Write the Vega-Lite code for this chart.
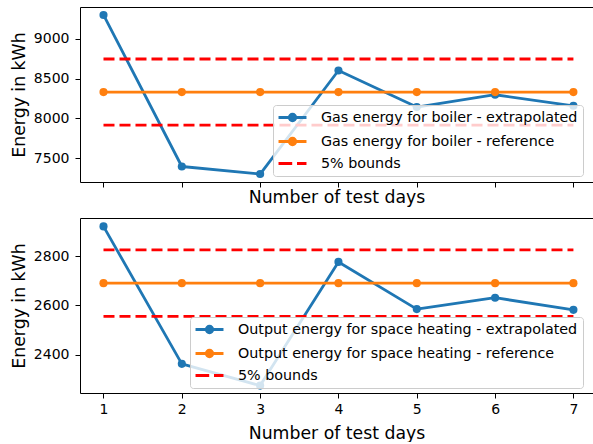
{
  "$schema": "https://vega.github.io/schema/vega-lite/v6.json",
  "padding": {"left": 10, "top": 7, "right": 0, "bottom": 0},
  "background": "white",
  "spacing": 36,
  "bounds": "flush",
  "config": {
    "font": "DejaVu Sans",
    "view": {"stroke": null},
    "axis": {
      "grid": false,
      "domain": true,
      "domainColor": "#000",
      "domainWidth": 1,
      "tickColor": "#000",
      "tickSize": 5,
      "tickWidth": 1,
      "labelFont": "DejaVu Sans",
      "labelFontSize": 14,
      "labelColor": "#000",
      "titleFont": "DejaVu Sans",
      "titleFontSize": 17.3,
      "titleFontWeight": "normal",
      "titleColor": "#000"
    },
    "legend": {
      "orient": "none",
      "title": null,
      "fillColor": "rgba(255,255,255,0.8)",
      "strokeColor": "#cccccc",
      "strokeWidth": 1,
      "cornerRadius": 3,
      "padding": 5,
      "labelFont": "DejaVu Sans",
      "labelFontSize": 14.3,
      "labelColor": "#000",
      "labelLimit": 0,
      "symbolSize": 144,
      "symbolStrokeWidth": 2.8,
      "symbolOffset": 7,
      "labelOffset": 21,
      "rowPadding": 5
    }
  },
  "resolve": {"scale": {"x": "independent", "y": "independent", "color": "independent"}, "legend": {"color": "independent"}},
  "vconcat": [
    {
      "width": 513,
      "height": 175,
      "data": {"values": [
        {"series": "Gas energy for boiler - extrapolated", "kind": "ext", "line": "ext", "day": 1, "value": 9300},
        {"series": "Gas energy for boiler - extrapolated", "kind": "ext", "line": "ext", "day": 2, "value": 7395},
        {"series": "Gas energy for boiler - extrapolated", "kind": "ext", "line": "ext", "day": 3, "value": 7300},
        {"series": "Gas energy for boiler - extrapolated", "kind": "ext", "line": "ext", "day": 4, "value": 8602},
        {"series": "Gas energy for boiler - extrapolated", "kind": "ext", "line": "ext", "day": 5, "value": 8142},
        {"series": "Gas energy for boiler - extrapolated", "kind": "ext", "line": "ext", "day": 6, "value": 8297},
        {"series": "Gas energy for boiler - extrapolated", "kind": "ext", "line": "ext", "day": 7, "value": 8158},
        {"series": "Gas energy for boiler - reference", "kind": "ref", "line": "ref", "day": 1, "value": 8330},
        {"series": "Gas energy for boiler - reference", "kind": "ref", "line": "ref", "day": 2, "value": 8330},
        {"series": "Gas energy for boiler - reference", "kind": "ref", "line": "ref", "day": 3, "value": 8330},
        {"series": "Gas energy for boiler - reference", "kind": "ref", "line": "ref", "day": 4, "value": 8330},
        {"series": "Gas energy for boiler - reference", "kind": "ref", "line": "ref", "day": 5, "value": 8330},
        {"series": "Gas energy for boiler - reference", "kind": "ref", "line": "ref", "day": 6, "value": 8330},
        {"series": "Gas energy for boiler - reference", "kind": "ref", "line": "ref", "day": 7, "value": 8330},
        {"series": "5% bounds", "kind": "bound", "line": "upper", "day": 1, "value": 8746},
        {"series": "5% bounds", "kind": "bound", "line": "upper", "day": 7, "value": 8746},
        {"series": "5% bounds", "kind": "bound", "line": "lower", "day": 1, "value": 7914},
        {"series": "5% bounds", "kind": "bound", "line": "lower", "day": 7, "value": 7914}
      ]},
      "encoding": {
        "y": {"field": "value", "type": "quantitative",
          "scale": {"domain": [7200, 9400], "nice": false, "zero": false},
          "axis": {"title": "Energy in kWh", "values": [7500, 8000, 8500, 9000], "format": "d", "labelPadding": 6, "titlePadding": 5}},
        "color": {"field": "series", "type": "nominal",
          "scale": {"domain": ["Gas energy for boiler - extrapolated", "Gas energy for boiler - reference", "5% bounds"], "range": ["#1f77b4", "#ff7f0e", "#ff0000"]},
          "legend": {"legendX": 193, "legendY": 98,
            "encode": {"symbols": {"update": {
              "shape": {"signal": "indexof(datum.value, 'bounds') >= 0 ? 'M-2.33,0H-0.05M0.75,0H2.33' : 'M-2.33,0H2.33M-0.54,0A0.54 0.54 0 1 1 0.54,0A0.54 0.54 0 1 1 -0.54,0Z'"},
              "fill": {"signal": "indexof(datum.value, 'extrapolated') >= 0 ? '#1f77b4' : indexof(datum.value, 'reference') >= 0 ? '#ff7f0e' : 'transparent'"},
              "stroke": {"signal": "indexof(datum.value, 'extrapolated') >= 0 ? '#1f77b4' : indexof(datum.value, 'reference') >= 0 ? '#ff7f0e' : '#ff0000'"},
              "fillOpacity": {"value": 1},
              "opacity": {"value": 1}
            }}}}}
      },
      "resolve": {"axis": {"x": "independent"}},
      "layer": [
        {
          "transform": [{"filter": "datum.kind == 'ext'"}],
          "mark": {"type": "line", "strokeWidth": 2.8, "strokeJoin": "round", "point": {"filled": true, "size": 66, "opacity": 1}},
          "encoding": {
            "x": {"field": "day", "type": "quantitative", "scale": {"domain": [0.7, 7.25], "nice": false, "zero": false},
              "axis": {"title": "Number of test days", "values": [1, 2, 3, 4, 5, 6, 7], "labels": false, "titlePadding": 1}}
          }
        },
        {
          "transform": [{"filter": "datum.kind == 'ref'"}],
          "mark": {"type": "line", "strokeWidth": 2.8, "strokeJoin": "round", "point": {"filled": true, "size": 66, "opacity": 1}},
          "encoding": {
            "x": {"field": "day", "type": "quantitative", "scale": {"domain": [0.7, 7.25], "nice": false, "zero": false}, "axis": null}
          }
        },
        {
          "transform": [{"filter": "datum.kind == 'bound'"}],
          "mark": {"type": "line", "strokeWidth": 2.8, "strokeDash": [11, 5], "strokeCap": "butt"},
          "encoding": {
            "x": {"field": "day", "type": "quantitative", "scale": {"domain": [0.7, 7.25], "nice": false, "zero": false},
              "axis": {"orient": "top", "title": null, "labels": false, "ticks": false, "domain": true}},
            "detail": {"field": "line"}
          }
        }
      ]
    },
    {
      "width": 513,
      "height": 175,
      "data": {"values": [
        {"series": "Output energy for space heating - extrapolated", "kind": "ext", "line": "ext", "day": 1, "value": 2920},
        {"series": "Output energy for space heating - extrapolated", "kind": "ext", "line": "ext", "day": 2, "value": 2363},
        {"series": "Output energy for space heating - extrapolated", "kind": "ext", "line": "ext", "day": 3, "value": 2275},
        {"series": "Output energy for space heating - extrapolated", "kind": "ext", "line": "ext", "day": 4, "value": 2776},
        {"series": "Output energy for space heating - extrapolated", "kind": "ext", "line": "ext", "day": 5, "value": 2585},
        {"series": "Output energy for space heating - extrapolated", "kind": "ext", "line": "ext", "day": 6, "value": 2631},
        {"series": "Output energy for space heating - extrapolated", "kind": "ext", "line": "ext", "day": 7, "value": 2582},
        {"series": "Output energy for space heating - reference", "kind": "ref", "line": "ref", "day": 1, "value": 2690},
        {"series": "Output energy for space heating - reference", "kind": "ref", "line": "ref", "day": 2, "value": 2690},
        {"series": "Output energy for space heating - reference", "kind": "ref", "line": "ref", "day": 3, "value": 2690},
        {"series": "Output energy for space heating - reference", "kind": "ref", "line": "ref", "day": 4, "value": 2690},
        {"series": "Output energy for space heating - reference", "kind": "ref", "line": "ref", "day": 5, "value": 2690},
        {"series": "Output energy for space heating - reference", "kind": "ref", "line": "ref", "day": 6, "value": 2690},
        {"series": "Output energy for space heating - reference", "kind": "ref", "line": "ref", "day": 7, "value": 2690},
        {"series": "5% bounds", "kind": "bound", "line": "upper", "day": 1, "value": 2824.5},
        {"series": "5% bounds", "kind": "bound", "line": "upper", "day": 7, "value": 2824.5},
        {"series": "5% bounds", "kind": "bound", "line": "lower", "day": 1, "value": 2555.5},
        {"series": "5% bounds", "kind": "bound", "line": "lower", "day": 7, "value": 2555.5}
      ]},
      "encoding": {
        "y": {"field": "value", "type": "quantitative",
          "scale": {"domain": [2245, 2954], "nice": false, "zero": false},
          "axis": {"title": "Energy in kWh", "values": [2400, 2600, 2800], "format": "d", "labelPadding": 6, "titlePadding": 5}},
        "color": {"field": "series", "type": "nominal",
          "scale": {"domain": ["Output energy for space heating - extrapolated", "Output energy for space heating - reference", "5% bounds"], "range": ["#1f77b4", "#ff7f0e", "#ff0000"]},
          "legend": {"legendX": 110, "legendY": 99,
            "encode": {"symbols": {"update": {
              "shape": {"signal": "indexof(datum.value, 'bounds') >= 0 ? 'M-2.33,0H-0.05M0.75,0H2.33' : 'M-2.33,0H2.33M-0.54,0A0.54 0.54 0 1 1 0.54,0A0.54 0.54 0 1 1 -0.54,0Z'"},
              "fill": {"signal": "indexof(datum.value, 'extrapolated') >= 0 ? '#1f77b4' : indexof(datum.value, 'reference') >= 0 ? '#ff7f0e' : 'transparent'"},
              "stroke": {"signal": "indexof(datum.value, 'extrapolated') >= 0 ? '#1f77b4' : indexof(datum.value, 'reference') >= 0 ? '#ff7f0e' : '#ff0000'"},
              "fillOpacity": {"value": 1},
              "opacity": {"value": 1}
            }}}}}
      },
      "resolve": {"axis": {"x": "independent"}},
      "layer": [
        {
          "transform": [{"filter": "datum.kind == 'ext'"}],
          "mark": {"type": "line", "strokeWidth": 2.8, "strokeJoin": "round", "point": {"filled": true, "size": 66, "opacity": 1}},
          "encoding": {
            "x": {"field": "day", "type": "quantitative", "scale": {"domain": [0.7, 7.25], "nice": false, "zero": false},
              "axis": {"title": "Number of test days", "values": [1, 2, 3, 4, 5, 6, 7], "format": "d", "labelPadding": 4, "titlePadding": 8}}
          }
        },
        {
          "transform": [{"filter": "datum.kind == 'ref'"}],
          "mark": {"type": "line", "strokeWidth": 2.8, "strokeJoin": "round", "point": {"filled": true, "size": 66, "opacity": 1}},
          "encoding": {
            "x": {"field": "day", "type": "quantitative", "scale": {"domain": [0.7, 7.25], "nice": false, "zero": false}, "axis": null}
          }
        },
        {
          "transform": [{"filter": "datum.kind == 'bound'"}],
          "mark": {"type": "line", "strokeWidth": 2.8, "strokeDash": [11, 5], "strokeCap": "butt"},
          "encoding": {
            "x": {"field": "day", "type": "quantitative", "scale": {"domain": [0.7, 7.25], "nice": false, "zero": false},
              "axis": {"orient": "top", "title": null, "labels": false, "ticks": false, "domain": true}},
            "detail": {"field": "line"}
          }
        }
      ]
    }
  ]
}
